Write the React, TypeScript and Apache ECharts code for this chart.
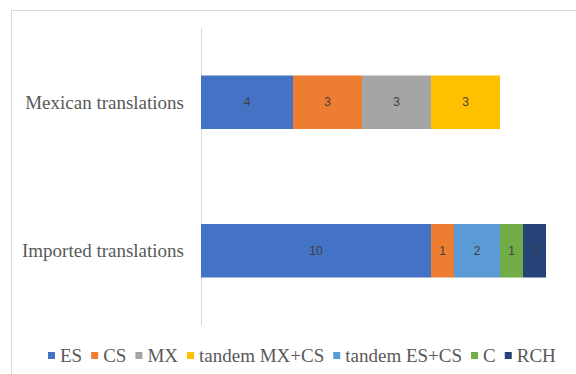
import React, { useEffect, useRef } from "react";
import * as echarts from "echarts";

const categories = ["Imported translations", "Mexican translations"];
const seriesNames = ["ES", "CS", "MX", "tandem MX+CS", "tandem ES+CS", "C", "RCH"];
const esValues = [10, 4];
const csValues = [1, 3];
const mxValues = [0, 3];
const tandemMxCsValues = [0, 3];
const tandemEsCsValues = [2, 0];
const cValues = [1, 0];
const rchValues = [1, 0];
const seriesValues = [esValues, csValues, mxValues, tandemMxCsValues, tandemEsCsValues, cValues, rchValues];
const colors = ["#4472c4", "#ed7d31", "#a5a5a5", "#ffc000", "#5b9bd5", "#70ad47", "#264478"];

export default function App() {
  const ref = useRef<HTMLDivElement>(null);
  useEffect(() => {
    if (!ref.current) return;
    const chart = echarts.init(ref.current, undefined, { renderer: "svg" });
    chart.setOption({
      animation: false,
      backgroundColor: "#ffffff",
      textStyle: { fontFamily: "Liberation Serif" },
      graphic: [
        {
          type: "rect",
          shape: { x: 11.5, y: 10.5, width: 700, height: 500 },
          style: { fill: "none", stroke: "#d9d9d9", lineWidth: 1 },
          silent: true,
        },
      ],
      grid: { left: 201, top: 28, width: 368, height: 297 },
      legend: {
        bottom: 4,
        left: 43,
        itemWidth: 7,
        itemHeight: 7,
        itemGap: 9,
        icon: "rect",
        data: seriesNames,
        textStyle: { fontFamily: "Liberation Serif", fontSize: 19, color: "#595959", padding: [0, 0, 0, 0] },
      },
      xAxis: {
        type: "value",
        min: 0,
        max: 16,
        show: false,
      },
      yAxis: {
        type: "category",
        data: categories,
        axisLine: { show: true, lineStyle: { color: "#d9d9d9" } },
        axisTick: { show: false },
        axisLabel: { fontFamily: "Liberation Serif", fontSize: 19, color: "#595959", margin: 17 },
      },
      series: seriesNames.map((name, i) => ({
        name,
        type: "bar",
        stack: "total",
        barWidth: "36%",
        data: seriesValues[i],
        itemStyle: { color: colors[i] },
        label: {
          show: true,
          position: "inside",
          fontFamily: "Liberation Sans",
          fontSize: 12,
          color: "#404040",
          formatter: (p: any) => (p.value ? String(p.value) : ""),
        },
      })),
    });
    return () => chart.dispose();
  }, []);
  return <div ref={ref} style={{ position: "fixed", left: 0, top: 0, width: 576, height: 374 }} />;
}
